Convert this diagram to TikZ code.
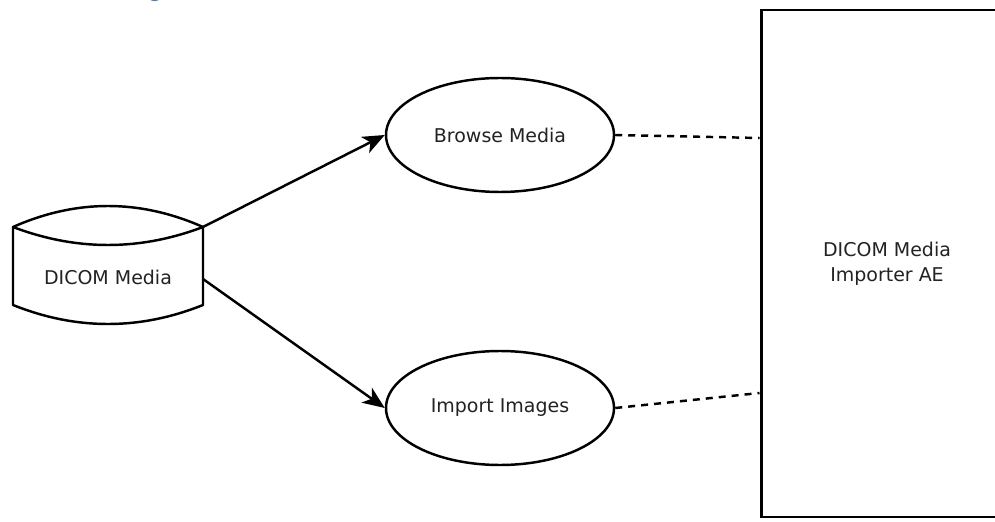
\documentclass[tikz,border=0pt]{standalone}
\usepackage{fontspec}
\setmainfont{DejaVu Sans}
\newfontfamily\headfont{Carlito}
\usetikzlibrary{calc, shapes, arrows.meta}

\definecolor{headblue}{RGB}{79,129,189}
\definecolor{inkgray}{RGB}{34,34,34}

\begin{document}
\begin{tikzpicture}[
        txt/.style={text=inkgray, font=\fontsize{10.8}{14.2}\selectfont},
        usecase/.style={ellipse, draw, line width=1.4pt, minimum width=4.56cm, minimum height=2.28cm, inner sep=0pt, txt},
        entity/.style={rectangle, draw, line width=1.7pt, minimum width=5.04cm, minimum height=10.14cm, align=center, txt},
        flow/.style={line width=1.4pt, -{Stealth[length=0.44cm, width=0.36cm, inset=0.12cm]}},
        link/.style={line width=1.4pt, dash pattern=on 0.14cm off 0.12cm},
        ]

    \useasboundingbox (0, 0) rectangle (19.9, 10.42);
    \clip (0, 0) rectangle (19.9, 10.42);

    \node (H) at (3.1, 10.37) [anchor=south, inner sep=0pt, text=headblue, font=\headfont\bfseries\fontsize{14}{16}\selectfont] {g};

    \draw [line width=1.4pt, line join=round] (0.26, 5.88) .. controls (1.527, 6.44) and (2.793, 6.44) .. (4.06, 5.88)
        .. controls (2.793, 5.40) and (1.527, 5.40) .. (0.26, 5.88) -- (0.26, 4.32)
        .. controls (1.527, 3.813) and (2.793, 3.813) .. (4.06, 4.32) -- (4.06, 5.88);
    \node (M) at (2.16, 4.88) [txt] {DICOM Media};
    \coordinate (M1) at (4.06, 5.88);
    \coordinate (M2) at (4.06, 4.84);

    \node (B) at (10, 7.72) [usecase] {Browse Media};
    \node (I) at (10, 2.26) [usecase] {Import Images};
    \node (AE) at (17.74, 5.15) [entity] {DICOM Media\\Importer AE};

    \draw [flow] (M1) -- (B.west);
    \draw [flow] (M2) -- (I.west);
    \draw [link] (B.east) -- ($(AE.west) + (0, 2.51)$);
    \draw [link] (I.east) -- ($(AE.west) + (0, -2.59)$);
\end{tikzpicture}
\end{document}
